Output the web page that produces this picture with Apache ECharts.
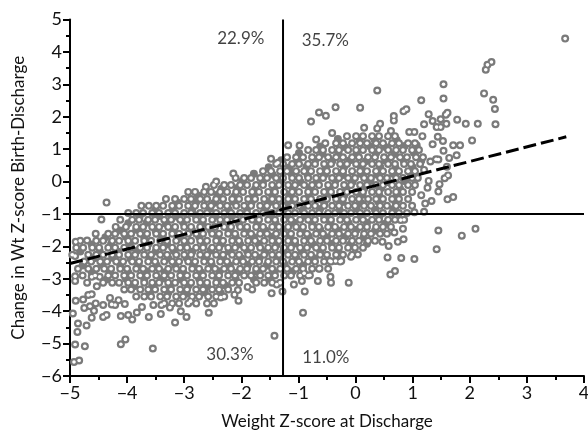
<!DOCTYPE html>
<html><head><meta charset="utf-8">
<style>html,body{margin:0;padding:0;background:#fff}#c{width:588px;height:431px}</style>
<script src="https://cdn.jsdelivr.net/npm/echarts@6/dist/echarts.min.js"></script>
</head><body><div id="c"></div>
<script>
const xTicks = [-5, 4];
const yTicks = [-6, 5];
const xCut = -1.27;
const yCut = -1;
const fitLine = [[-5, -2.53], [3.69, 1.38]];
const quadrantLabels = [
  [-2.01, 4.4, '22.9%'], [-0.53, 4.34, '35.7%'],
  [-2.2, -5.35, '30.3%'], [-0.52, -5.42, '11.0%']
];
const outliers = [
[-4.93,-5.57],[-4.84,-5.52],[-4.91,-5.03],[-4.74,-5.08],[-4.87,-4.64],[-4.86,-4.38],[-4.71,-4.44],[-4.95,-4.07],[-4.9,-3.68],[-4.77,-3.64],[-4.68,-3.5],[-4.62,-3.48],[-4.75,-3.9],[-4.65,-3.85],[-4.55,-3.76],[-4.58,-3.99],[-4.62,-4.2],[-4.42,-4.18],[-4.36,-4.12],[-4.42,-3.81],[-4.11,-5.02],[-4.03,-4.87],[-3.55,-5.15],[-4.11,-4.15],[-3.98,-4.12],[-3.91,-4.26],[-3.62,-4.18],[-3.41,-4.09],[-3.16,-4.35],[-3.06,-4.0],[-2.96,-4.18],[-3.83,-4.04],[-3.74,-3.87],[-3.54,-3.81],[-3.25,-3.89],[-2.89,-3.69],[-3.4,-3.81],[-4.27,-3.79],[-4.21,-3.81],[-4.04,-3.78],[-4.15,-3.66],[-4.3,-3.59],[-4.53,-3.23],[-4.48,-2.94],[-4.91,-2.92],[-4.91,-3.07],[-4.7,-3.12],[-4.62,-2.94],[-4.9,-1.86],[-4.91,-2.3],[-4.7,-1.82],[-4.45,-1.17],[-4.36,-0.65],
[3.67,4.41],[2.38,3.69],[2.31,3.6],[2.28,3.45],[1.54,3.0],[0.38,2.81],[2.25,2.72],[2.41,2.52],[1.54,2.56],[1.15,2.51],[2.44,2.24],[2.45,1.77],[1.61,2.12],[1.58,2.06],[0.89,2.23],[0.84,2.17],[0.67,2.02],[0.67,1.88],[1.28,2.08],[1.35,1.87],[1.2,1.77],[1.49,1.92],[1.59,1.78],[1.49,1.68],[1.42,1.68],[1.78,1.91],[1.93,1.78],[2.14,1.78],[2.04,1.27],[1.83,1.12],[1.71,1.12],[1.44,1.38],[1.53,1.25],[1.35,1.15],[1.54,0.95],[1.77,0.81],[1.64,0.73],[1.45,0.68],[1.41,0.69],[1.6,0.46],[1.62,0.19],[1.56,0.1],[1.47,-0.08],[1.26,-0.19],[1.45,-0.31],[1.71,-0.48],[1.61,-0.55],[1.33,-0.6],[1.22,-0.68],[1.15,-0.42],[1.28,0.02],[1.2,0.36],[1.31,0.62],
[-0.35,2.29],[0.08,2.28],[-0.64,2.13],[-0.52,2.03],[-0.78,1.85],[0.15,1.66],[0.38,1.64],[0.43,1.78],[-0.41,1.5],[-0.69,1.3],[-1.18,1.12],[-0.98,1.11],[-1.48,0.7],[-1.36,0.58],[0.62,1.56],[0.94,1.53],[1.03,1.53],[1.17,1.4],[-2.14,0.25],[-2.44,0.0],[-2.62,-0.16],
[-1.42,-4.76],[-0.92,-4.05],[-0.89,-3.39],[-1.47,-3.45],[-1.28,-3.39],[-1.38,-3.18],[-2.57,-4.05],[-2.05,-3.68],[-2.36,-3.58],[-2.12,-3.49],[-2.06,-3.35],[-1.89,-3.25],[-0.12,-3.12],[-0.43,-3.12],[-0.44,-2.94],[-0.66,-3.07],[-0.94,-3.07],[-1.08,-3.18],[2.1,-1.46],[1.86,-1.67],[1.45,-1.51],[1.42,-2.09],[1.03,-2.39],[0.8,-2.36],[0.56,-2.34],[0.69,-2.76],[0.61,-2.87],[0.84,-1.78],[0.74,-1.86],[0.58,-1.99],[0.47,-1.86],[0.04,-2.25],[-0.08,-2.32],[-0.25,-2.45],[-0.35,-2.45],[-0.45,-2.45],[-0.63,-2.68],[-0.8,-2.89],[-0.9,-2.83],[1.2,-0.93],[1.03,-0.95],[0.83,-1.46],[0.68,-1.57],[0.79,-1.19]
];
// each row: first the y value, then the x values read along that row
const cloudRows = [
[1.4,-0.15,0.01,0.13,0.29,0.41,0.57,0.69],
[1.18,-0.53,-0.34,-0.22,-0.06,0.08,0.2,0.36,0.48,0.64,0.76,0.92,1.04],
[0.97,-0.83,-0.69,-0.57,-0.41,-0.29,-0.13,0.01,0.13,0.29,0.41,0.57,0.71,0.83,0.99,1.11],
[0.75,-1.2,-1.04,-0.92,-0.76,-0.64,-0.48,-0.34,-0.22,-0.06,0.06,0.22,0.34,0.5,0.62,0.78,0.9,1.06,1.18],
[0.54,-1.39,-1.27,-1.11,-0.99,-0.83,-0.71,-0.55,-0.43,-0.27,-0.15,0.01,0.13,0.29,0.41,0.57,0.69,0.85,0.97,1.13],
[0.32,-1.62,-1.48,-1.32,-1.2,-1.04,-0.9,-0.78,-0.62,-0.5,-0.34,-0.22,-0.06,0.08,0.2,0.36,0.48,0.64,0.76,0.92,1.04],
[0.11,-2.1,-1.95,-1.83,-1.67,-1.55,-1.39,-1.27,-1.11,-0.99,-0.83,-0.69,-0.57,-0.41,-0.29,-0.13,-0.01,0.15,0.27,0.43,0.55,0.71,0.83,0.99,1.09],
[-0.11,-2.48,-2.3,-2.18,-2.02,-1.9,-1.74,-1.62,-1.46,-1.34,-1.18,-1.06,-0.9,-0.76,-0.64,-0.48,-0.36,-0.2,-0.08,0.08,0.2,0.36,0.48,0.64,0.76,0.92,1.04],
[-0.32,-2.93,-2.81,-2.65,-2.53,-2.37,-2.25,-2.09,-1.97,-1.81,-1.69,-1.53,-1.41,-1.25,-1.11,-0.99,-0.83,-0.71,-0.55,-0.43,-0.27,-0.15,0.01,0.13,0.29,0.41,0.57,0.71,0.83,0.99],
[-0.54,-3.32,-3.16,-3,-2.88,-2.72,-2.6,-2.44,-2.32,-2.16,-2.04,-1.88,-1.76,-1.6,-1.46,-1.34,-1.18,-1.06,-0.9,-0.78,-0.62,-0.5,-0.34,-0.22,-0.06,0.06,0.22,0.36,0.48,0.64,0.76,0.92],
[-0.75,-3.75,-3.62,-3.49,-3.37,-3.21,-3.09,-2.93,-2.81,-2.65,-2.53,-2.37,-2.25,-2.09,-1.95,-1.83,-1.67,-1.55,-1.39,-1.27,-1.11,-0.99,-0.83,-0.71,-0.55,-0.41,-0.29,-0.13,-0.01,0.15,0.27,0.43,0.55,0.71,0.83,0.99],
[-0.97,-3.98,-3.84,-3.72,-3.56,-3.44,-3.28,-3.16,-3,-2.88,-2.72,-2.6,-2.44,-2.3,-2.18,-2.02,-1.9,-1.74,-1.62,-1.46,-1.34,-1.18,-1.06,-0.9,-0.76,-0.64,-0.48,-0.36,-0.2,-0.08,0.08,0.2,0.36,0.48,0.64,0.76,0.9],
[-1.18,-4.12,-3.91,-3.79,-3.63,-3.51,-3.35,-3.23,-3.07,-2.95,-2.79,-2.67,-2.51,-2.37,-2.25,-2.09,-1.97,-1.81,-1.69,-1.53,-1.41,-1.25,-1.13,-0.97,-0.83,-0.71,-0.55,-0.43,-0.27,-0.15,0.01,0.13,0.29,0.41,0.57,0.69,0.85],
[-1.4,-4.2,-4.02,-3.84,-3.72,-3.56,-3.44,-3.28,-3.16,-3,-2.88,-2.72,-2.58,-2.46,-2.3,-2.18,-2.02,-1.9,-1.74,-1.62,-1.46,-1.34,-1.18,-1.04,-0.92,-0.76,-0.64,-0.48,-0.36,-0.2,-0.08,0.08,0.2,0.36,0.48,0.62],
[-1.61,-4.55,-4.33,-4.21,-4.05,-3.93,-3.77,-3.65,-3.49,-3.37,-3.21,-3.09,-2.93,-2.79,-2.67,-2.51,-2.39,-2.23,-2.11,-1.95,-1.83,-1.67,-1.55,-1.39,-1.25,-1.13,-0.97,-0.85,-0.69,-0.57,-0.41,-0.29,-0.13,-0.01,0.15,0.27,0.43,0.55],
[-1.83,-4.82,-4.54,-4.42,-4.26,-4.14,-3.98,-3.86,-3.7,-3.58,-3.42,-3.3,-3.14,-3,-2.88,-2.72,-2.6,-2.44,-2.32,-2.16,-2.04,-1.88,-1.76,-1.6,-1.46,-1.34,-1.18,-1.06,-0.9,-0.78,-0.62,-0.5,-0.34,-0.22,-0.06,0.06,0.22,0.34],
[-2.04,-4.89,-4.77,-4.61,-4.49,-4.33,-4.21,-4.05,-3.93,-3.77,-3.65,-3.49,-3.37,-3.21,-3.07,-2.95,-2.79,-2.67,-2.51,-2.39,-2.23,-2.11,-1.95,-1.83,-1.67,-1.53,-1.41,-1.25,-1.13,-0.97,-0.85,-0.69,-0.57,-0.41,-0.29,-0.13,-0.01,0.13],
[-2.26,-4.96,-4.68,-4.54,-4.42,-4.26,-4.14,-3.98,-3.86,-3.7,-3.58,-3.42,-3.3,-3.14,-3,-2.88,-2.72,-2.6,-2.44,-2.32,-2.16,-2.04,-1.88,-1.76,-1.6,-1.46,-1.34,-1.18,-1.06,-0.9,-0.78,-0.62,-0.5,-0.34,-0.22,-0.06],
[-2.47,-4.75,-4.63,-4.47,-4.35,-4.19,-4.07,-3.91,-3.79,-3.63,-3.51,-3.35,-3.21,-3.09,-2.93,-2.81,-2.65,-2.53,-2.37,-2.25,-2.09,-1.97,-1.81,-1.69,-1.53,-1.39,-1.27,-1.11,-0.99,-0.83,-0.71,-0.55,-0.43,-0.27],
[-2.69,-4.86,-4.68,-4.54,-4.4,-4.28,-4.12,-4,-3.84,-3.72,-3.56,-3.44,-3.28,-3.14,-3.02,-2.86,-2.74,-2.58,-2.46,-2.3,-2.18,-2.02,-1.9,-1.74,-1.62,-1.46,-1.32,-1.2,-1.04,-0.92,-0.76,-0.64,-0.48],
[-2.9,-4.78,-4.56,-4.33,-4.21,-4.05,-3.93,-3.77,-3.65,-3.49,-3.35,-3.23,-3.07,-2.95,-2.79,-2.67,-2.51,-2.39,-2.23,-2.11,-1.95,-1.83,-1.67,-1.53,-1.41,-1.25,-1.13,-0.97,-0.83],
[-3.12,-4.42,-4.26,-4.14,-3.98,-3.86,-3.7,-3.56,-3.44,-3.28,-3.16,-3,-2.88,-2.72,-2.6,-2.44,-2.32,-2.16,-2.04,-1.74,-1.6,-1.46,-1.32],
[-3.33,-4.05,-3.93,-3.77,-3.63,-3.51,-3.35,-3.23,-3.07,-2.95,-2.79,-2.67,-2.51,-2.39,-2.23,-1.81],
[-3.55,-3.84,-3.7,-3.58,-3.42,-3.3,-3.14,-3.02,-2.86,-2.74,-2.58,-2.44,-2.3],
[-3.76,-3.35,-3.21,-3.09,-2.93,-2.79,-2.6,-2.48]
];
// off-row circles whose centres are overdrawn by their neighbours in the dense cloud
const cloudFill = [
[-0.31,1.31],[0.07,1.27],[0.33,1.3],[0.72,1.28],[-0.62,1.08],[-0.18,1.06],[0.25,1.09],[0.53,1.06],[0.86,1.1],[1.07,1.12],
[-0.99,0.88],[-0.58,0.86],[-0.3,0.88],[0.02,0.85],[0.36,0.87],[0.68,0.85],[1.02,0.89],[-1.3,0.66],[-1.02,0.65],[-0.7,0.68],[-0.41,0.63],[-0.1,0.66],[0.18,0.63],[0.52,0.65],[0.84,0.66],[1.15,0.64],
[-1.52,0.44],[-1.16,0.43],[-0.86,0.46],[-0.52,0.42],[-0.2,0.45],[0.1,0.43],[0.43,0.46],[0.7,0.42],[1.0,0.44],[-1.78,0.24],[-1.45,0.21],[-1.12,0.24],[-0.84,0.2],[-0.53,0.23],[-0.22,0.2],[0.1,0.23],[0.38,0.21],[0.66,0.24],[0.97,0.21],
[-1.98,0.02],[-1.62,0.0],[-1.3,0.03],[-0.96,-0.02],[-0.68,0.01],[-0.35,0.03],[-0.05,-0.01],[0.26,0.02],[0.58,-0.02],[0.87,0.01],[-2.35,-0.22],[-2.07,-0.2],[-1.76,-0.23],[-1.42,-0.19],[-1.1,-0.22],[-0.8,-0.2],[-0.46,-0.23],[-0.16,-0.19],[0.15,-0.22],[0.45,-0.2],[0.78,-0.23],
[-2.76,-0.43],[-2.42,-0.41],[-2.12,-0.45],[-1.78,-0.42],[-1.46,-0.44],[-1.15,-0.41],[-0.82,-0.45],[-0.5,-0.42],[-0.2,-0.44],[0.12,-0.41],[0.42,-0.45],[0.72,-0.42],[-3.12,-0.65],[-2.79,-0.63],[-2.48,-0.66],[-2.14,-0.62],[-1.82,-0.65],[-1.5,-0.63],[-1.18,-0.66],[-0.86,-0.62],[-0.55,-0.65],[-0.23,-0.63],[0.1,-0.66],[0.4,-0.62],[0.7,-0.65],
[-3.5,-0.87],[-3.2,-0.85],[-2.86,-0.88],[-2.55,-0.84],[-2.22,-0.87],[-1.9,-0.85],[-1.58,-0.88],[-1.25,-0.84],[-0.93,-0.87],[-0.62,-0.85],[-0.28,-0.88],[0.02,-0.84],[0.34,-0.87],[0.66,-0.85],[-3.78,-1.08],[-3.44,-1.06],[-3.12,-1.09],[-2.8,-1.05],[-2.48,-1.08],[-2.15,-1.06],[-1.84,-1.09],[-1.5,-1.05],[-1.2,-1.08],[-0.86,-1.06],[-0.55,-1.09],[-0.22,-1.05],[0.1,-1.08],[0.42,-1.06],
[-3.98,-1.29],[-3.66,-1.27],[-3.32,-1.3],[-3.02,-1.26],[-2.68,-1.29],[-2.36,-1.27],[-2.04,-1.3],[-1.72,-1.26],[-1.4,-1.29],[-1.08,-1.27],[-0.76,-1.3],[-0.44,-1.26],[-0.12,-1.29],[0.2,-1.27],[0.52,-1.3],[-4.12,-1.51],[-3.84,-1.49],[-3.5,-1.52],[-3.18,-1.48],[-2.86,-1.51],[-2.54,-1.49],[-2.22,-1.52],[-1.9,-1.48],[-1.58,-1.51],[-1.26,-1.49],[-0.94,-1.52],[-0.62,-1.48],[-0.3,-1.51],[0.02,-1.49],[0.34,-1.52],
[-4.38,-1.72],[-4.02,-1.7],[-3.7,-1.73],[-3.38,-1.69],[-3.06,-1.72],[-2.74,-1.7],[-2.42,-1.73],[-2.1,-1.69],[-1.78,-1.72],[-1.46,-1.7],[-1.14,-1.73],[-0.82,-1.69],[-0.5,-1.72],[-0.18,-1.7],[0.14,-1.73],[-4.62,-1.94],[-4.28,-1.92],[-3.96,-1.95],[-3.62,-1.91],[-3.3,-1.94],[-2.98,-1.92],[-2.66,-1.95],[-2.34,-1.91],[-2.02,-1.94],[-1.7,-1.92],[-1.38,-1.95],[-1.06,-1.91],[-0.74,-1.94],[-0.42,-1.92],[-0.1,-1.95],[0.2,-1.92],
[-4.82,-2.16],[-4.48,-2.14],[-4.16,-2.17],[-3.82,-2.13],[-3.5,-2.16],[-3.18,-2.14],[-2.86,-2.17],[-2.54,-2.13],[-2.22,-2.16],[-1.9,-2.14],[-1.58,-2.17],[-1.26,-2.13],[-0.94,-2.16],[-0.62,-2.14],[-0.3,-2.17],[-4.58,-2.37],[-4.26,-2.35],[-3.94,-2.38],[-3.6,-2.34],[-3.28,-2.37],[-2.96,-2.35],[-2.64,-2.38],[-2.32,-2.34],[-2,-2.37],[-1.68,-2.35],[-1.36,-2.38],[-1.04,-2.34],[-0.72,-2.37],
[-4.78,-2.59],[-4.44,-2.57],[-4.12,-2.6],[-3.8,-2.56],[-3.48,-2.59],[-3.16,-2.57],[-2.84,-2.6],[-2.52,-2.56],[-2.2,-2.59],[-1.88,-2.57],[-1.56,-2.6],[-1.24,-2.56],[-0.92,-2.59],[-4.62,-2.8],[-4.3,-2.78],[-3.98,-2.81],[-3.66,-2.77],[-3.34,-2.8],[-3.02,-2.78],[-2.7,-2.81],[-2.38,-2.77],[-2.06,-2.8],[-1.74,-2.78],[-1.42,-2.81],[-1.1,-2.77],
[-4.36,-3.02],[-4.02,-3.0],[-3.7,-3.03],[-3.38,-2.99],[-3.06,-3.02],[-2.74,-3.0],[-2.42,-3.03],[-2.1,-2.99],[-1.78,-3.02],[-1.5,-3.0],[-3.88,-3.23],[-3.56,-3.21],[-3.24,-3.24],[-2.92,-3.2],[-2.6,-3.23],[-2.28,-3.21],[-3.6,-3.45],[-3.28,-3.43],[-2.96,-3.46],[-2.64,-3.42],[-2.36,-3.45]
];
const rowPoints = [];
cloudRows.forEach(r => r.slice(1).forEach(x => rowPoints.push([x, r[0]])));
const openPoints = rowPoints.concat(outliers);
const fmt = v => String(v).replace('-', '\u2212');
const font = 'Lato,"Open Sans",sans-serif';
const chart = echarts.init(document.getElementById('c'), null, {renderer: 'canvas'});
const axisCommon = {
  type: 'value', interval: 1, nameLocation: 'middle',
  splitLine: {show: false},
  axisLine: {show: true, onZero: false, lineStyle: {color: '#000', width: 2}},
  axisTick: {show: true, length: 7, inside: false, lineStyle: {color: '#000', width: 2}},
  minorTick: {show: true, splitNumber: 2, length: 4, lineStyle: {color: '#000', width: 2}},
  axisLabel: {color: '#111', fontSize: 18, fontFamily: font, formatter: fmt, hideOverlap: false, showMinLabel: true, showMaxLabel: true},
  nameTextStyle: {color: '#111', fontSize: 17, fontFamily: font}
};
const refLine = d => ({type: 'line', data: d, showSymbol: false, symbol: 'none', silent: true, z: 5, lineStyle: {color: '#000', width: 2}});
chart.setOption({
  animation: false,
  backgroundColor: '#fff',
  grid: {left: 70, right: 4, top: 19.5, bottom: 55, containLabel: false, outerBoundsMode: 'none'},
  xAxis: Object.assign({}, axisCommon, {min: xTicks[0], max: xTicks[1], name: 'Weight Z-score at Discharge', nameGap: 37}),
  yAxis: Object.assign({}, axisCommon, {min: yTicks[0], max: yTicks[1], name: 'Change in Wt Z-score Birth-Discharge', nameGap: 43}),
  series: [
    {type: 'scatter', data: openPoints.concat(cloudFill), symbol: 'circle', symbolSize: 8, silent: true, z: 2,
     itemStyle: {color: '#7a7a7a', borderWidth: 0, opacity: 1}},
    {type: 'scatter', data: openPoints, symbol: 'circle', symbolSize: 3.6, silent: true, z: 3,
     itemStyle: {color: '#fff', borderWidth: 0, opacity: 1}},
    refLine([[xCut, yTicks[0]], [xCut, yTicks[1]]]),
    refLine([[xTicks[0], yCut], [xTicks[1], yCut]]),
    {type: 'line', data: fitLine, symbol: 'none', silent: true, z: 6, lineStyle: {color: '#000', width: 3, type: [13, 5]}},
    {type: 'scatter', data: quadrantLabels.map(q => ({value: [q[0], q[1]], name: q[2]})), symbolSize: 0, silent: true, z: 7,
     label: {show: true, position: 'inside', formatter: '{b}', color: '#111', fontSize: 17, fontFamily: font}}
  ]
});
</script></body></html>
